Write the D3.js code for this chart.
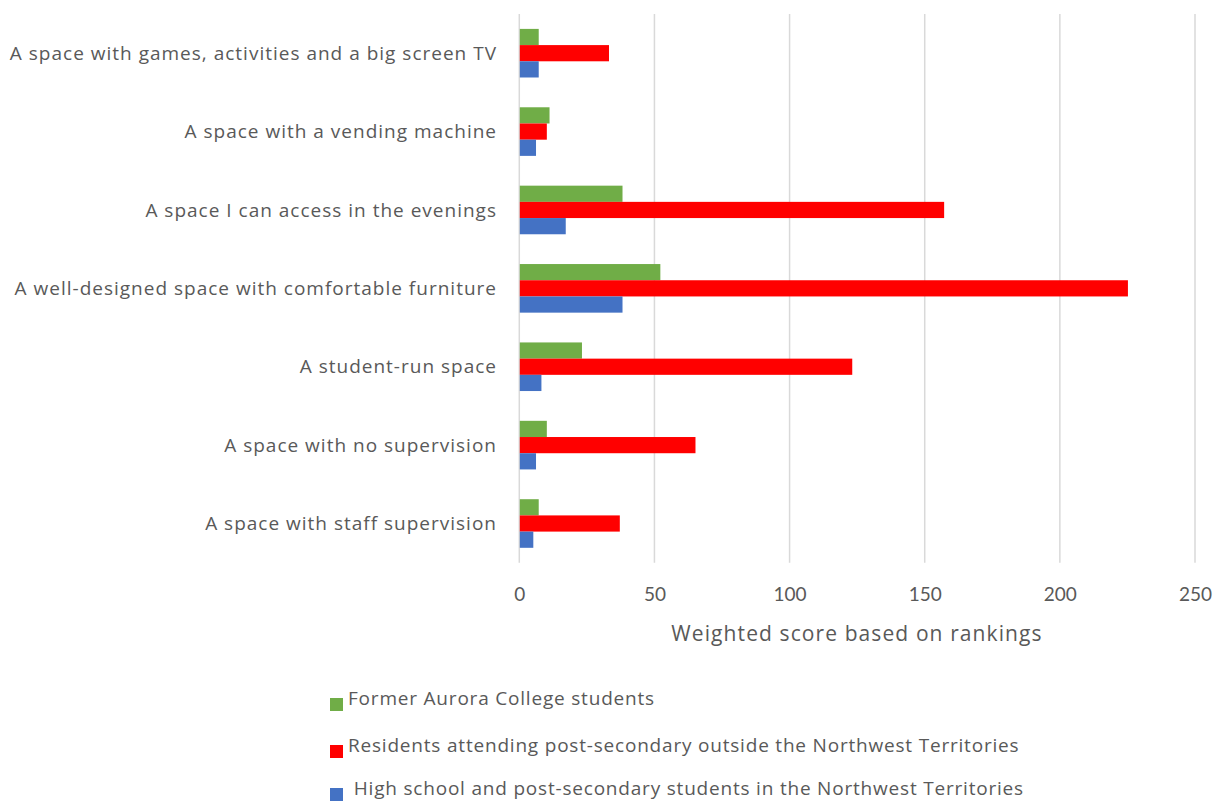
<!DOCTYPE html>
<html>
<head>
<meta charset="utf-8">
<script src="https://cdn.jsdelivr.net/npm/d3@7"></script>
<style>
  html, body { margin: 0; padding: 0; background: #fff; }
  svg { display: block; font-family: "Open Sans", "Liberation Sans", sans-serif; }
</style>
</head>
<body>
<svg id="chart" width="1217" height="801"></svg>
<script>
// Categories, listed top to bottom
const categories = [
  "A space with games, activities and a big screen TV",
  "A space with a vending machine",
  "A space I can access in the evenings",
  "A well-designed space with comfortable furniture",
  "A student-run space",
  "A space with no supervision",
  "A space with staff supervision"
];

// Series names (legend order)
const seriesNames = [
  "Former Aurora College students",
  "Residents attending post-secondary outside the Northwest Territories",
  " High school and post-secondary students in the Northwest Territories"
];

// Weighted scores per series, in category order
const formerAurora = [7, 11, 38, 52, 23, 10, 7];
const outsideNWT   = [33, 10, 157, 225, 123, 65, 37];
const insideNWT    = [7, 6, 17, 38, 8, 6, 5];

const xTicks = [0, 50, 100, 150, 200, 250];
const axisTitle = "Weighted score based on rankings";

const seriesValues = [formerAurora, outsideNWT, insideNWT];
const seriesColors = ["#70ad47", "#ff0000", "#4472c4"];

const svg = d3.select("#chart");
const margin = { left: 519.3, right: 1195, top: 14, bottom: 562.7 };

const x = d3.scaleLinear().domain([0, 250]).range([margin.left, margin.right]);
const y = d3.scaleBand().domain(categories).range([margin.top, margin.bottom])
  .paddingInner(0.38).paddingOuter(0.19);
const ySub = d3.scaleBand().domain(d3.range(seriesValues.length))
  .range([0, y.bandwidth()]);

// Vertical gridlines
svg.append("g")
  .selectAll("line")
  .data(xTicks)
  .join("line")
  .attr("x1", d => x(d)).attr("x2", d => x(d))
  .attr("y1", margin.top).attr("y2", margin.bottom)
  .attr("stroke", "#d9d9d9")
  .attr("stroke-width", 1.5);

// Bars
const groups = svg.append("g")
  .selectAll("g")
  .data(categories)
  .join("g")
  .attr("transform", c => `translate(0,${y(c)})`);

groups.selectAll("rect")
  .data((c, i) => seriesValues.map((vals, s) => ({ s, v: vals[i] })))
  .join("rect")
  .attr("x", x(0) + 0.5)
  .attr("y", d => ySub(d.s))
  .attr("width", d => x(d.v) - x(0))
  .attr("height", ySub.bandwidth())
  .attr("fill", d => seriesColors[d.s]);

// Category labels
svg.append("g")
  .selectAll("text")
  .data(categories)
  .join("text")
  .attr("x", 497)
  .attr("y", c => y(c) + y.bandwidth() / 2)
  .attr("dy", "0.35em")
  .attr("text-anchor", "end")
  .attr("fill", "#595959")
  .style("font-size", "19px")
  .style("letter-spacing", "1px")
  .text(c => c);

// X axis tick labels
const xAxis = d3.axisBottom(x).tickValues(xTicks).tickSize(0).tickPadding(0);
const gx = svg.append("g").attr("transform", `translate(0,${margin.bottom})`).call(xAxis);
gx.select(".domain").remove();
gx.selectAll("text")
  .attr("y", 38)
  .attr("dy", 0)
  .attr("fill", "#595959")
  .style("font-size", "19px")
  .style("font-family", "Lato, sans-serif");

// Axis title
svg.append("text")
  .attr("x", 857)
  .attr("y", 641)
  .attr("text-anchor", "middle")
  .attr("fill", "#595959")
  .style("font-size", "21px")
  .style("letter-spacing", "1.1px")
  .text(axisTitle);

// Legend
const legendY = [698, 745, 788];
const legend = svg.append("g")
  .selectAll("g")
  .data(seriesNames)
  .join("g")
  .attr("transform", (d, i) => `translate(330,${legendY[i]})`);

legend.append("rect")
  .attr("x", 0).attr("y", 0)
  .attr("width", 13).attr("height", 13)
  .attr("fill", (d, i) => seriesColors[i]);

legend.append("text")
  .attr("x", 18)
  .attr("y", 0)
  .attr("dy", "0.35em")
  .attr("fill", "#595959")
  .style("font-size", "19px")
  .style("letter-spacing", "0.8px")
  .style("white-space", "pre")
  .text(d => d);
</script>
</body>
</html>
